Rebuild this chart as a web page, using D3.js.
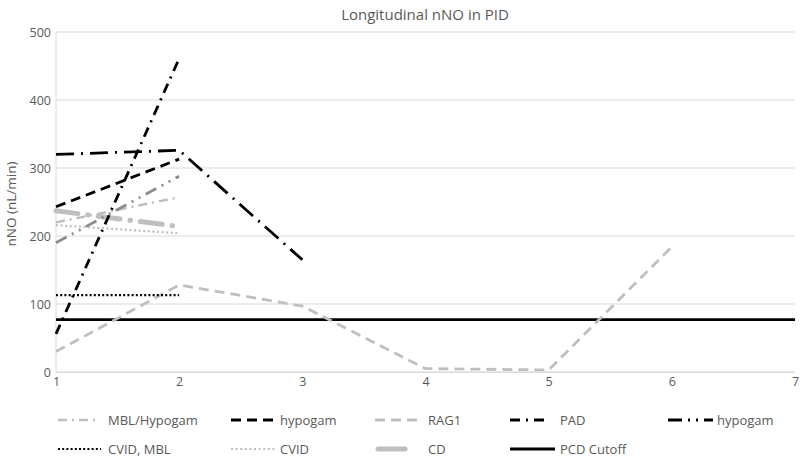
<!DOCTYPE html>
<html><head><meta charset="utf-8">
<script src="https://cdn.jsdelivr.net/npm/d3@7"></script>
<style>body{margin:0;background:#fff}svg{display:block}</style>
</head><body>
<svg id="c" width="800" height="458"></svg>
<script>
const xTicks = [1,2,3,4,5,6,7];
const yTicks = [0,100,200,300,400,500];
const seriesNames = ["MBL/Hypogam","hypogam","RAG1","PAD","hypogam","CVID, MBL","CVID","CD","PCD Cutoff","(unlabeled)"];
const mblHypogam = [[1,220],[2,257]];
const hypogam1 = [[1,243],[2,313]];
const rag1 = [[1,30],[2,128],[3,97],[4,5],[5,3],[6,184]];
const pad = [[1,56],[2,461]];
const hypogam2 = [[1,320],[2,326],[3,165]];
const cvidMbl = [[1,113],[2,113]];
const cvid = [[1,216],[2,204]];
const cd = [[1,237],[2,214]];
const pcdCutoff = [[1,77],[7,77]];
const extraGray = [[1,190],[2,288]];

const LG = "#bfbfbf", MG = "#8c8c8c", BK = "#000";
const styles = [
  {data: mblHypogam, color: LG, w: 2.5, dash: "9,5,2,5", cap:"butt", legend:{x:58,x2:97,tx:108,row:0}},
  {data: hypogam1, color: BK, w: 2.8, dash: "10,6", cap:"butt", legend:{x:231,x2:277,tx:280,row:0}},
  {data: rag1, color: LG, w: 2.8, dash: "10,6", cap:"butt", legend:{x:375,x2:421,tx:428,row:0}},
  {data: pad, color: BK, w: 2.8, dash: "10,6,2,6", cap:"butt", legend:{x:510,x2:548,tx:560,row:0}},
  {data: hypogam2, color: BK, w: 2.8, dash: "18,7,2,7", cap:"butt", legend:{x:668,x2:713,tx:717,row:0}, ldash:"14,6,2,6,2,6"},
  {data: cvidMbl, color: BK, w: 2.2, dash: "2,2.2", cap:"butt", legend:{x:58,x2:101,tx:108,row:1}},
  {data: cvid, color: LG, w: 2.2, dash: "2,2.6", cap:"butt", legend:{x:231,x2:275,tx:280,row:1}},
  {data: cd, color: LG, w: 5, dash: "22,10,0.5,10", cap:"round", legend:{x:378,x2:405,tx:428,row:1}, ldash:"30,10"},
  {data: pcdCutoff, color: BK, w: 2.8, dash: null, cap:"butt", legend:{x:510,x2:555,tx:560,row:1}},
  {data: extraGray, color: MG, w: 2.8, dash: "12,6,2,6,2,6", cap:"butt", legend:null}
];

const svg = d3.select("#c");
const m = {l:56, r:795, t:32, b:372};
const x = d3.scaleLinear().domain([1,7]).range([m.l, m.r]);
const y = d3.scaleLinear().domain([0,500]).range([m.b, m.t]);
const font = "'Open Sans','Noto Sans',sans-serif";
const txt = "#595959";

// gridlines
svg.append("g").selectAll("line").data(yTicks).join("line")
  .attr("x1", m.l).attr("x2", m.r).attr("y1", d=>y(d)).attr("y2", d=>y(d))
  .attr("stroke", "#d9d9d9").attr("stroke-width", 1);
// left axis line
svg.append("line").attr("x1", m.l).attr("x2", m.l).attr("y1", m.t).attr("y2", m.b)
  .attr("stroke", "#d9d9d9").attr("stroke-width", 1);

// axes
const yAxis = svg.append("g").attr("transform", `translate(${m.l},0)`)
  .call(d3.axisLeft(y).tickValues(yTicks).tickSize(0).tickPadding(5));
yAxis.select(".domain").remove();
yAxis.selectAll("text").attr("fill", txt).style("font-family", font).style("font-size", "12.5px");

const xAxis = svg.append("g").attr("transform", `translate(0,${m.b})`)
  .call(d3.axisBottom(x).tickValues(xTicks).tickFormat(d3.format("d")).tickSize(0).tickPadding(5));
xAxis.select(".domain").attr("stroke", "#d9d9d9");
xAxis.selectAll("text").attr("fill", txt).style("font-family", font).style("font-size", "12.5px");

// lines
const line = d3.line().x(d=>x(d[0])).y(d=>y(d[1]));
const order = [8,2,6,7,0,9,1,5,3,4];
order.forEach(i => {
  const s = styles[i];
  svg.append("path").datum(s.data).attr("d", line)
    .attr("fill","none").attr("stroke", s.color).attr("stroke-width", s.w)
    .attr("stroke-dasharray", s.dash).attr("stroke-linecap", s.cap)
    .attr("stroke-linejoin","round");
});

// title
svg.append("text").attr("x", 425).attr("y", 20).attr("text-anchor","middle")
  .attr("fill", txt).style("font-family", font).style("font-size", "15px")
  .text("Longitudinal nNO in PID");

// y label
svg.append("text").attr("transform", "translate(16,204) rotate(-90)").attr("text-anchor","middle")
  .attr("fill", txt).style("font-family", font).style("font-size", "13.5px")
  .text("nNO (nL/min)");

// legend
const rowsY = [420, 449];
styles.forEach((s, i) => {
  if (!s.legend) return;
  const L = s.legend, yy = rowsY[L.row];
  svg.append("line").attr("x1", L.x).attr("x2", L.x2).attr("y1", yy).attr("y2", yy)
    .attr("stroke", s.color).attr("stroke-width", s.w)
    .attr("stroke-dasharray", s.ldash || s.dash).attr("stroke-linecap", s.cap === "round" ? "round" : "butt");
  svg.append("text").attr("x", L.tx).attr("y", yy + 4.5).attr("fill", txt)
    .style("font-family", font).style("font-size", "13px").text(seriesNames[i]);
});
</script>
</body></html>
